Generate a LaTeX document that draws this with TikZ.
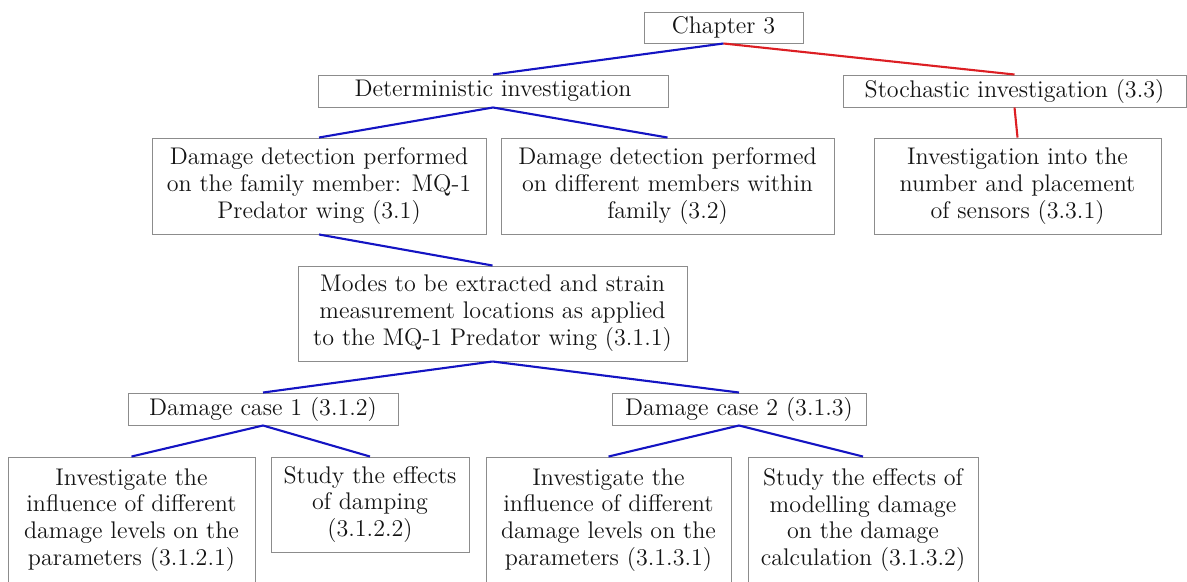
\documentclass[tikz,border=0pt]{standalone}
\usepackage{tikz}
\usetikzlibrary{positioning}

\definecolor{linkblue}{RGB}{20,20,195}
\definecolor{linkred}{RGB}{220,30,35}

\begin{document}
\begin{tikzpicture}[
    box/.style={draw=black!45, line width=0.55pt, align=center, inner sep=2pt,
        font=\fontsize{13.7}{15.3}\selectfont, text=black!92},
    blueline/.style={draw=linkblue, line width=1.2pt},
    redline/.style={draw=linkred, line width=1.2pt}
]

\useasboundingbox (0,0) rectangle (23.74,-11.62);

% Top of the tree
\node[box, minimum width=3.18cm, minimum height=0.62cm] (chap) at (14.47,-0.55) {Chapter 3};
\node[box, minimum width=7.0cm, minimum height=0.64cm] (det) at (9.86,-1.82) {Deterministic investigation};
\node[box, minimum width=6.86cm, minimum height=0.64cm] (stoch) at (20.29,-1.82) {Stochastic investigation (3.3)};

% Second level
\node[box, minimum width=6.68cm, minimum height=1.92cm] (d31) at (6.38,-3.72)
    {Damage detection performed\\on the family member: MQ-1\\Predator wing (3.1)};
\node[box, minimum width=6.66cm, minimum height=1.92cm] (d32) at (13.35,-3.72)
    {Damage detection performed\\on different members within\\family (3.2)};
\node[box, minimum width=5.74cm, minimum height=1.92cm] (sens) at (20.35,-3.72)
    {Investigation into the\\number and placement\\of sensors (3.3.1)};

% Modes and strain locations
\node[box, minimum width=7.78cm, minimum height=1.9cm] (modes) at (9.85,-6.27)
    {Modes to be extracted and strain\\measurement locations as applied\\to the MQ-1 Predator wing (3.1.1)};

% Damage cases
\node[box, minimum width=5.4cm, minimum height=0.64cm] (dc1) at (5.26,-8.18) {Damage case 1 (3.1.2)};
\node[box, minimum width=5.08cm, minimum height=0.64cm] (dc2) at (14.78,-8.18) {Damage case 2 (3.1.3)};

% Studies per damage case
\node[box, minimum width=4.94cm, minimum height=2.52cm] (b1) at (2.63,-10.4)
    {Investigate the\\influence of different\\damage levels on the\\parameters (3.1.2.1)};
\node[box, minimum width=3.96cm, minimum height=1.9cm] (b2) at (7.40,-10.09)
    {Study the effects\\of damping\\(3.1.2.2)};
\node[box, minimum width=4.9cm, minimum height=2.52cm] (b3) at (12.17,-10.4)
    {Investigate the\\influence of different\\damage levels on the\\parameters (3.1.3.1)};
\node[box, minimum width=4.6cm, minimum height=2.52cm] (b4) at (17.26,-10.4)
    {Study the effects of\\modelling damage\\on the damage\\calculation (3.1.3.2)};

% Deterministic branch
\foreach \a/\b in {chap/det, det/d31, det/d32, d31/modes, modes/dc1, modes/dc2, dc1/b1, dc1/b2, dc2/b3, dc2/b4} {
    \draw[blueline] (\a.south) -- (\b.north);
}

% Stochastic branch
\foreach \a/\b in {chap/stoch, stoch/sens} {
    \draw[redline] (\a.south) -- (\b.north);
}

\end{tikzpicture}
\end{document}
